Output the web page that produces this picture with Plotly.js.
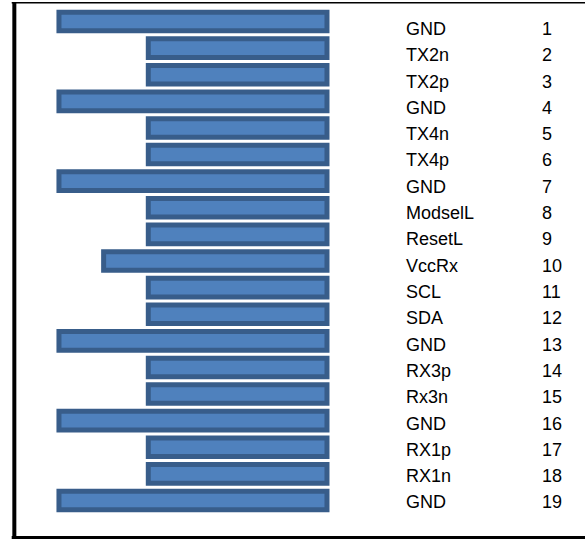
<!DOCTYPE html>
<html>
<head>
<meta charset="utf-8">
<script src="https://cdn.plot.ly/plotly-3.0.1.min.js"></script>
<style>
html,body{margin:0;padding:0;background:#fff;}
#chart{width:585px;height:539px;}
</style>
</head>
<body>
<div id="chart"></div>
<script>
const pinNames = ['GND','TX2n','TX2p','GND','TX4n','TX4p','GND','ModselL','ResetL','VccRx','SCL','SDA','GND','RX3p','Rx3n','GND','RX1p','RX1n','GND'];
const pinNumbers = [1,2,3,4,5,6,7,8,9,10,11,12,13,14,15,16,17,18,19];
const contactLength = [3,2,2,3,2,2,3,2,2,2.5,2,2,3,2,2,3,2,2,3];

const textFont = {family: '"Liberation Sans", Arial, Helvetica, sans-serif', size: 18, color: '#000000'};

const bars = {
  type: 'bar',
  orientation: 'h',
  x: contactLength,
  y: pinNumbers,
  width: 0.7,
  marker: {color: '#4f81bd', line: {color: '#385d8a', width: 5}},
  hoverinfo: 'skip',
  showlegend: false
};

const anchorTrace = {
  type: 'scatter', mode: 'markers',
  x: [0], y: [1], yaxis: 'y2',
  marker: {opacity: 0}, hoverinfo: 'skip', showlegend: false
};

const annotations = [];
pinNames.forEach((name, i) => {
  annotations.push({
    xref: 'paper', yref: 'y2', x: 0.6906, y: pinNumbers[i],
    xanchor: 'left', yanchor: 'middle', text: name, showarrow: false,
    font: textFont
  });
  annotations.push({
    xref: 'paper', yref: 'y2', x: 0.9231, y: pinNumbers[i],
    xanchor: 'left', yanchor: 'middle', text: String(pinNumbers[i]), showarrow: false,
    font: textFont
  });
});

const shapes = [
  {type: 'line', xref: 'paper', yref: 'paper', x0: 0.0245, x1: 0.0245, y0: -0.01, y1: 0.996, line: {color: '#000', width: 4}},
  {type: 'line', xref: 'paper', yref: 'paper', x0: 0.02, x1: 1.01, y0: 0.995, y1: 0.995, line: {color: '#000', width: 1.5}},
  {type: 'line', xref: 'paper', yref: 'paper', x0: 0.02, x1: 1.01, y0: 0.0028, y1: 0.0028, line: {color: '#000', width: 3}}
];

const layout = {
  width: 585, height: 539,
  margin: {l: 0, r: 0, t: 0, b: 0, pad: 0},
  paper_bgcolor: '#ffffff', plot_bgcolor: '#ffffff',
  xaxis: {range: [3.660, -2.888], visible: false, fixedrange: true},
  yaxis: {range: [20.447, 0.192], visible: false, fixedrange: true},
  yaxis2: {range: [20.39, -0.10], overlaying: 'y', visible: false, fixedrange: true},
  annotations: annotations,
  shapes: shapes,
  showlegend: false
};

Plotly.newPlot('chart', [bars, anchorTrace], layout, {staticPlot: true, displayModeBar: false});
</script>
</body>
</html>
